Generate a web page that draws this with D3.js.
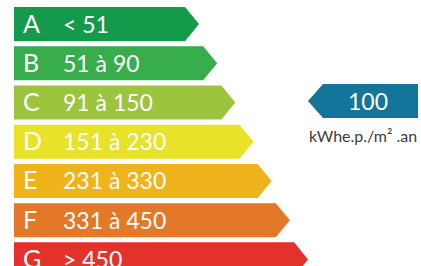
<!DOCTYPE html>
<html lang="fr">
<head>
<meta charset="UTF-8">
<title>DPE</title>
<script src="https://d3js.org/d3.v7.min.js"></script>
<style>
  body { margin: 0; background: #fff; }
  text { font-family: Lato, "Open Sans", sans-serif; }
</style>
</head>
<body>
<div id="chart"></div>
<script>
// energy classes
const classes = ["A", "B", "C", "D", "E", "F", "G"];
const ranges = ["< 51", "51 à 90", "91 à 150", "151 à 230", "231 à 330", "331 à 450", "> 450"];
const colors = ["#159a4b", "#38ad4c", "#9cc43e", "#e8e229", "#efb31c", "#e37828", "#e3312c"];
// current value
const value = 100;
const valueClass = "C";
const unit = "kWhe.p./m² .an";

const W = 421, H = 266;
const svg = d3.select("#chart").append("svg").attr("width", W).attr("height", H);

const y = d3.scaleBand().domain(classes).range([7, 7 + 7 * 38.5]).paddingInner(0.13).paddingOuter(0);
// tip of each arrow grows with the class index
const tip = d3.scaleLinear().domain([0, classes.length - 1]).range([199, 308]);
const left = 14, depth = 14;

const rows = svg.selectAll("g.row")
  .data(classes)
  .enter()
  .append("g")
  .attr("class", "row");

rows.append("path")
  .attr("fill", (d, i) => colors[i])
  .attr("d", (d, i) => {
    const t = y(d), b = t + y.bandwidth(), m = t + y.bandwidth() / 2;
    const x2 = tip(i);
    return `M${left},${t}H${x2 - depth}L${x2},${m}L${x2 - depth},${b}H${left}Z`;
  });

rows.append("text")
  .attr("x", 23)
  .attr("y", d => y(d) + y.bandwidth() / 2 + 8.5)
  .attr("fill", "#fff")
  .attr("font-size", 25)
  .text(d => d);

rows.append("text")
  .attr("x", 63)
  .attr("y", d => y(d) + y.bandwidth() / 2 + 8.5)
  .attr("fill", "#fff")
  .attr("font-size", 23)
  .text((d, i) => ranges[i]);

// indicator arrow
const it = y(valueClass) - 1.5, ib = it + y.bandwidth(), im = (it + ib) / 2;
const ix1 = 308, ix2 = 418;
svg.append("path")
  .attr("fill", "#13759a")
  .attr("d", `M${ix1},${im}L${ix1 + 15},${it}H${ix2}V${ib}H${ix1 + 15}Z`);

svg.append("text")
  .attr("x", 368)
  .attr("y", im + 8.5)
  .attr("text-anchor", "middle")
  .attr("fill", "#fff")
  .attr("font-size", 23)
  .text(value);

svg.append("text")
  .attr("x", 363)
  .attr("y", 142)
  .attr("text-anchor", "middle")
  .attr("fill", "#3c3c3c")
  .attr("font-size", 16)
  .text(unit);
</script>
</body>
</html>
